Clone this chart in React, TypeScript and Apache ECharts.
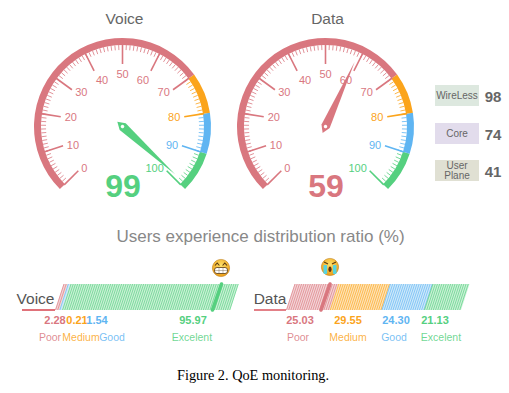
import React, { useEffect, useRef } from "react";
import * as echarts from "echarts";

const FONT = '"Liberation Sans", Arial, sans-serif';
const RED = "#d9777f";
const ORANGE = "#fba41b";
const BLUE = "#5fb5f2";
const GREEN = "#55d07f";
const SEGMENT_COLORS = [RED, ORANGE, BLUE, GREEN];

// data
const gaugeNames = ["Voice", "Data"];
const gaugeValues = [99, 59];
const gaugeStops = [0.7, 0.8, 0.9, 1];
const componentNames = ["WireLess", "Core", "User\nPlane"];
const componentValues = [98, 74, 41];
const levelNames = ["Poor", "Medium", "Good", "Excelent"];
const voiceShares = [2.28, 0.21, 1.54, 95.97];
const dataShares = [25.03, 29.55, 24.3, 21.13];
const voiceMarker = 90;
const dataMarker = 20;
const distributionTitle = "Users experience distribution ratio (%)";
const caption = "Figure 2. QoE monitoring.";

// layout
const gaugeCenters = [122.5, 325.5];
const panelColors = ["#dde8df", "#e2dcec", "#e0e0d3"];
const panelTops = [85, 123, 160];
const voiceValueX = [55, 77, 97, 193];
const voiceNameX = [50, 81, 112, 192];
const dataValueX = [300, 348, 396, 435];
const dataNameX = [298, 348, 394, 441];
const SKEW = 8.5;

const shareRows = (shares: number[]) => {
  let acc = 0;
  return shares.map((s, i) => {
    const row = [acc, acc + s, i];
    acc += s;
    return row;
  });
};

const renderHatch = (params: any, api: any) => {
  const a = api.coord([api.value(0), 0]);
  const b = api.coord([api.value(1), 0]);
  const top = api.coord([api.value(0), 1])[1];
  const color = SEGMENT_COLORS[api.value(2)];
  const children: any[] = [
    {
      type: "polygon",
      shape: { points: [[a[0], a[1]], [b[0], a[1]], [b[0] + SKEW, top], [a[0] + SKEW, top]] },
      style: { fill: color, opacity: 0.3 },
    },
  ];
  for (let x = a[0] + 0.5; x <= b[0]; x += 2.2) {
    children.push({
      type: "line",
      shape: { x1: x, y1: a[1], x2: x + SKEW, y2: top },
      style: { stroke: color, lineWidth: 0.9, opacity: 0.75 },
    });
  }
  return { type: "group", children };
};

const renderMarker = (params: any, api: any) => {
  const a = api.coord([api.value(0), 0]);
  const top = api.coord([api.value(0), 1])[1];
  return {
    type: "line",
    shape: { x1: a[0], y1: a[1], x2: a[0] + SKEW + 0.5, y2: top },
    style: { stroke: SEGMENT_COLORS[api.value(1)], lineWidth: 3.6, lineCap: "round" },
  };
};

const gaugeSeries = (i: number) => ({
  type: "gauge",
  center: [gaugeCenters[i], 126.5],
  radius: 88.5,
  startAngle: 225,
  endAngle: -45,
  min: 0,
  max: 100,
  splitNumber: 10,
  axisLine: {
    lineStyle: {
      width: 7,
      color: gaugeStops.map((s, k) => [s, SEGMENT_COLORS[k]]),
    },
  },
  axisTick: { splitNumber: 10, distance: 0, length: 5, lineStyle: { color: "auto", width: 1, opacity: 0.8 } },
  splitLine: { distance: -1, length: 20, lineStyle: { color: "auto", width: 1.6 } },
  axisLabel: {
    color: "auto",
    distance: 11,
    padding: [0, 0, 4, 0],
    fontSize: 11,
    fontFamily: FONT,
    align: "center",
    verticalAlign: "middle",
  },
  pointer: {
    icon: "path://M5,0 L10,78 L5,86 L0,78 Z",
    length: 78,
    width: 9,
    offsetCenter: [0, 7],
    itemStyle: { color: "auto" },
  },
  anchor: { show: true, showAbove: true, size: 3.5, itemStyle: { color: "#fff", borderWidth: 0 } },
  title: { offsetCenter: [2, -108.5], fontSize: 15.5, color: "#666", fontFamily: FONT },
  detail: {
    valueAnimation: false,
    offsetCenter: [0.5, 59],
    fontSize: 32,
    fontWeight: "bold",
    fontFamily: FONT,
    color: "auto",
  },
  data: [{ name: gaugeNames[i], value: gaugeValues[i] }],
});

const barSeries = (i: number, shares: number[], marker: number, markerColor: number) => [
  {
    type: "custom",
    xAxisIndex: i,
    yAxisIndex: i,
    renderItem: renderHatch,
    data: shareRows(shares),
    silent: true,
    clip: false,
  },
  {
    type: "custom",
    xAxisIndex: i,
    yAxisIndex: i,
    renderItem: renderMarker,
    data: [[marker, markerColor]],
    silent: true,
    clip: false,
  },
];

const txt = (x: number, y: number, text: string, fontSize: number, fill: string, extra: any = {}) => ({
  type: "text",
  x,
  y,
  style: { text, fontSize, fill, fontFamily: FONT, align: "center", verticalAlign: "middle", ...extra },
});

const emojiBase = (x: number, y: number, children: any[]) => ({
  type: "group",
  x,
  y,
  children: [
    {
      type: "circle",
      shape: { cx: 0, cy: 0, r: 8.6 },
      style: {
        fill: new echarts.graphic.RadialGradient(0.5, 0.35, 0.7, [
          { offset: 0, color: "#ffe26a" },
          { offset: 1, color: "#e8950f" },
        ]),
        stroke: "#b9770f",
        lineWidth: 0.5,
      },
    },
    ...children,
  ],
});

const grin = emojiBase(221, 268, [
  { type: "polyline", shape: { points: [[-6, -2.5], [-3.8, -5], [-1.6, -2.5]] }, style: { stroke: "#5a3a10", fill: "none", lineWidth: 1.1 } },
  { type: "polyline", shape: { points: [[1.6, -2.5], [3.8, -5], [6, -2.5]] }, style: { stroke: "#5a3a10", fill: "none", lineWidth: 1.1 } },
  { type: "rect", shape: { x: -6.5, y: -0.5, width: 13, height: 6, r: 2.5 }, style: { fill: "#fff", stroke: "#5a3a10", lineWidth: 0.8 } },
  { type: "line", shape: { x1: -6, y1: 2.5, x2: 6, y2: 2.5 }, style: { stroke: "#8a7a60", lineWidth: 0.5 } },
  { type: "line", shape: { x1: -2, y1: 0, x2: -2, y2: 5 }, style: { stroke: "#8a7a60", lineWidth: 0.5 } },
  { type: "line", shape: { x1: 2, y1: 0, x2: 2, y2: 5 }, style: { stroke: "#8a7a60", lineWidth: 0.5 } },
]);

const cry = emojiBase(330, 267, [
  { type: "rect", shape: { x: -6.5, y: -2, width: 3.6, height: 9, r: 1 }, style: { fill: "#58d4e0" } },
  { type: "rect", shape: { x: 2.9, y: -2, width: 3.6, height: 9, r: 1 }, style: { fill: "#58d4e0" } },
  { type: "line", shape: { x1: -6, y1: -5, x2: -2, y2: -3 }, style: { stroke: "#5a3a10", lineWidth: 1.1 } },
  { type: "line", shape: { x1: 6, y1: -5, x2: 2, y2: -3 }, style: { stroke: "#5a3a10", lineWidth: 1.1 } },
  { type: "ellipse", shape: { cx: 0, cy: 2.2, rx: 1.6, ry: 2.8 }, style: { fill: "#5a3010" } },
]);

const graphics: any[] = [
  ...componentNames.flatMap((name, i) => [
    { type: "rect", shape: { x: 435, y: panelTops[i], width: 44, height: 21 }, style: { fill: panelColors[i] } },
    txt(457, panelTops[i] + 10.5, name, 10, "#666", { lineHeight: 9.5 }),
    txt(493, panelTops[i] + 11, String(componentValues[i]), 15, "#666", { fontWeight: "bold" }),
  ]),
  txt(260.5, 236, distributionTitle, 17, "#888"),
  txt(35.5, 298, "Voice", 15.5, "#555"),
  txt(270, 298, "Data", 15.5, "#555"),
  { type: "line", shape: { x1: 22, y1: 310, x2: 55, y2: 310 }, style: { stroke: "#e0727a", lineWidth: 1.8 } },
  { type: "line", shape: { x1: 254, y1: 310, x2: 286, y2: 310 }, style: { stroke: "#e0727a", lineWidth: 1.8 } },
  ...voiceShares.flatMap((v, i) => [
    txt(voiceValueX[i], 320, v.toFixed(2), 11, SEGMENT_COLORS[i], { fontWeight: "bold" }),
    txt(voiceNameX[i], 337, levelNames[i], 10.5, SEGMENT_COLORS[i], { opacity: 0.85 }),
  ]),
  ...dataShares.flatMap((v, i) => [
    txt(dataValueX[i], 320, v.toFixed(2), 11, SEGMENT_COLORS[i], { fontWeight: "bold" }),
    txt(dataNameX[i], 337, levelNames[i], 10.5, SEGMENT_COLORS[i], { opacity: 0.85 }),
  ]),
  grin,
  cry,
  txt(253, 375, caption, 14.3, "#000", { fontFamily: '"Liberation Serif", "Times New Roman", serif' }),
];

const hiddenAxis = { type: "value", show: false, min: 0 };

export default function App() {
  const ref = useRef<HTMLDivElement>(null);
  useEffect(() => {
    document.body.style.margin = "0";
    const chart = echarts.init(ref.current!, undefined, { renderer: "svg" });
    chart.setOption({
      animation: false,
      backgroundColor: "#fff",
      grid: [
        { left: 55, width: 175, top: 284, height: 26 },
        { left: 286, width: 175, top: 284, height: 26 },
      ],
      xAxis: [
        { ...hiddenAxis, max: 100, gridIndex: 0 },
        { ...hiddenAxis, max: 100, gridIndex: 1 },
      ],
      yAxis: [
        { ...hiddenAxis, max: 1, gridIndex: 0 },
        { ...hiddenAxis, max: 1, gridIndex: 1 },
      ],
      series: [
        gaugeSeries(0),
        gaugeSeries(1),
        ...barSeries(0, voiceShares, voiceMarker, 3),
        ...barSeries(1, dataShares, dataMarker, 0),
      ],
      graphic: { elements: graphics },
    });
    return () => chart.dispose();
  }, []);
  return <div ref={ref} style={{ width: 509, height: 393 }} />;
}
